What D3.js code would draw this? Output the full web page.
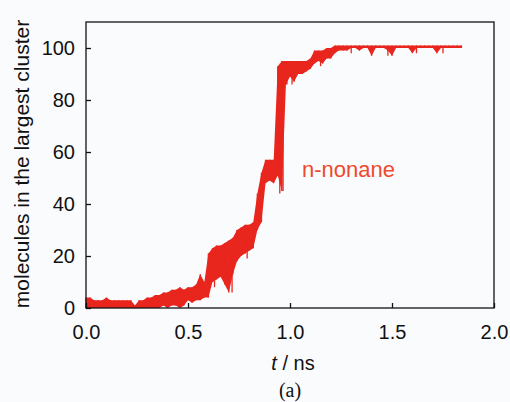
<!DOCTYPE html>
<html>
<head>
<meta charset="utf-8">
<script src="https://cdn.jsdelivr.net/npm/d3@7"></script>
<style>
  html, body { margin: 0; padding: 0; background: #fafbfd; }
  svg { display: block; }
</style>
</head>
<body>
<div id="chart"></div>
<script>
// sample times (ns), every 0.02 ns
var tStep = 0.02
// lower / upper envelope of the noisy cluster size trace
var nLow = [0, 0, 0, 0, 0, 0, 0, 0, 0, 0,
  0, 0, 0, 0, 0, 0, 0, 0, 0, 1,
  0, 1, 1, 0, 1, 3, 2, 3, 3, 4,
  4, 10, 11, 12, 9, 6, 13, 18, 20, 21,
  22, 23, 30, 33, 48, 49, 48, 51, 45, 86,
  89, 87, 90, 90, 91, 92, 94, 95, 94, 96,
  96, 98, 99, 99, 99, 100, 100, 99, 100, 100,
  97, 100, 100, 100, 99, 97, 100, 100, 100, 100,
  98, 100, 100, 100, 100, 100, 98, 100, 100, 100,
  100, 100, 100]
var nHigh = [4, 4, 3, 3, 3, 4, 3, 3, 3, 3,
  3, 3, 1, 3, 3, 4, 4, 5, 5, 6,
  6, 7, 7, 8, 7, 8, 8, 9, 13, 10,
  21, 23, 24, 24, 25, 26, 27, 30, 31, 32,
  32, 33, 44, 52, 57, 57, 57, 93, 95, 95,
  95, 95, 95, 95, 95, 96, 99, 99, 99, 100,
  100, 101, 101, 101, 101, 101, 101, 101, 101, 101,
  101, 101, 101, 101, 101, 101, 101, 101, 101, 101,
  101, 101, 101, 101, 101, 101, 101, 101, 101, 101,
  101, 101, 101]
// isolated thin spikes (time in ns, value they reach)
var spikeT = [0.12, 0.245, 0.63, 0.69, 0.716, 0.79, 0.95, 0.966, 0.985, 1.01, 1.15, 1.30, 1.48, 1.62, 1.75]
var spikeV = [0, 0, 8, 10, 6, 19, 44, 45, 86, 86, 93, 98, 97, 98, 98]
var xTicks = [0, 0.5, 1.0, 1.5, 2.0]
var yTicks = [0, 20, 40, 60, 80, 100]

var width = 510, height = 402
var margin = {left: 86, right: 16, top: 22, bottom: 94}
var red = '#e8261e'

var svg = d3.select('#chart').append('svg')
  .attr('width', width)
  .attr('height', height)

var x = d3.scaleLinear().domain([0, 2]).range([margin.left, width - margin.right])
var y = d3.scaleLinear().domain([0, 110]).range([height - margin.bottom, margin.top])

var data = nLow.map(function (v, i) {
  return {t: i * tStep, lo: v, hi: nHigh[i]}
})

var g = svg.append('g')

// filled band between envelopes
g.append('path')
  .datum(data)
  .attr('fill', red)
  .attr('d', d3.area()
    .x(function (d) { return x(d.t) })
    .y0(function (d) { return y(d.lo) })
    .y1(function (d) { return y(d.hi) }))

// vertical noise strokes
g.selectAll('line.noise')
  .data(data)
  .enter().append('line')
  .attr('class', 'noise')
  .attr('x1', function (d) { return x(d.t) })
  .attr('x2', function (d) { return x(d.t) })
  .attr('y1', function (d) { return y(d.lo) })
  .attr('y2', function (d) { return y(d.hi) })
  .attr('stroke', red)
  .attr('stroke-width', 1.4)

// thin spikes, drawn from the band at the nearest sample
g.selectAll('line.spike')
  .data(spikeT)
  .enter().append('line')
  .attr('class', 'spike')
  .attr('x1', function (d) { return x(d) })
  .attr('x2', function (d) { return x(d) })
  .attr('y1', function (d, i) { return y(spikeV[i]) })
  .attr('y2', function (d) {
    var s = data[Math.round(d / tStep)]
    return y((s.lo + s.hi) / 2)
  })
  .attr('stroke', red)
  .attr('stroke-width', 1.3)

// frame
var x0 = margin.left, x1 = width - margin.right
var y0 = margin.top, y1 = height - margin.bottom
svg.append('rect')
  .attr('x', x0).attr('y', y0)
  .attr('width', x1 - x0).attr('height', y1 - y0)
  .attr('fill', 'none')
  .attr('stroke', '#111')
  .attr('stroke-width', 1.3)

var xAxis = d3.axisBottom(x).tickValues(xTicks).tickSizeInner(-5).tickSizeOuter(0)
  .tickPadding(17).tickFormat(d3.format('.1f'))
var gx = svg.append('g').attr('transform', 'translate(0,' + y1 + ')').call(xAxis)

var yAxis = d3.axisLeft(y).tickValues(yTicks).tickSizeInner(-5).tickSizeOuter(0)
  .tickPadding(11)
var gy = svg.append('g').attr('transform', 'translate(' + x0 + ',0)').call(yAxis)

;[gx, gy].forEach(function (a) {
  a.select('.domain').remove()
  a.selectAll('line').attr('stroke', '#111').attr('stroke-width', 1.3)
  a.selectAll('text')
    .attr('fill', '#111')
    .style('font-family', 'Liberation Sans, Arial, sans-serif')
    .style('font-size', '20px')
})
gx.selectAll('text').attr('dy', '0.71em')

svg.append('text')
  .attr('transform', 'translate(29,' + 164 + ') rotate(-90)')
  .attr('text-anchor', 'middle')
  .style('font-family', 'Liberation Sans, Arial, sans-serif')
  .style('font-size', '21px')
  .attr('fill', '#111')
  .text('molecules in the largest cluster')

var xl = svg.append('text')
  .attr('x', 293).attr('y', 370)
  .attr('text-anchor', 'middle')
  .style('font-family', 'Liberation Sans, Arial, sans-serif')
  .style('font-size', '20px')
  .attr('fill', '#111')
xl.append('tspan').style('font-style', 'italic').text('t')
xl.append('tspan').text(' / ns')

svg.append('text')
  .attr('x', 290).attr('y', 397)
  .attr('text-anchor', 'middle')
  .style('font-family', 'Liberation Serif, Times New Roman, serif')
  .style('font-size', '20px')
  .attr('fill', '#111')
  .text('(a)')

svg.append('text')
  .attr('x', 302).attr('y', 177)
  .style('font-family', 'Liberation Sans, Arial, sans-serif')
  .style('font-size', '22px')
  .attr('fill', '#ee4a2c')
  .text('n-nonane')
</script>
</body>
</html>
